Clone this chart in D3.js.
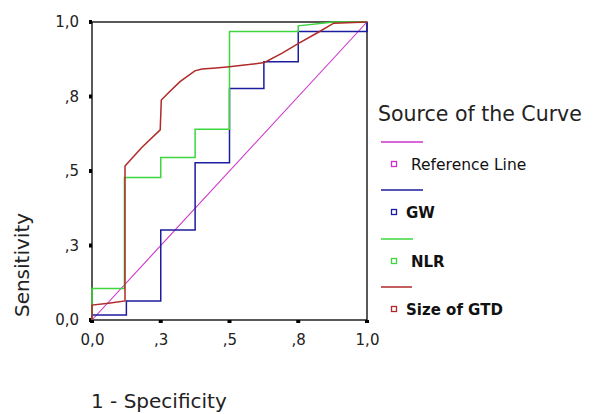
<!DOCTYPE html>
<html>
<head>
<meta charset="utf-8">
<script src="https://cdn.jsdelivr.net/npm/d3@7"></script>
<style>
  body { margin: 0; background: #fff; }
  svg { display: block; font-family: "DejaVu Sans", Verdana, sans-serif; }
</style>
</head>
<body>
<div id="chart"></div>
<script>
// ROC curve data (x = 1 - specificity, y = sensitivity)
const refX = [0, 1];
const refY = [0, 1];

const gwX = [0, 0, 0.125, 0.125, 0.25, 0.25, 0.375, 0.375, 0.5, 0.5, 0.625, 0.625, 0.75, 0.75, 1, 1];
const gwY = [0, 0.017, 0.017, 0.064, 0.064, 0.302, 0.302, 0.528, 0.528, 0.777, 0.777, 0.867, 0.867, 0.968, 0.968, 1];

const nlrX = [0, 0, 0.118, 0.118, 0.25, 0.25, 0.375, 0.375, 0.5, 0.5, 0.75, 0.75, 0.88, 1];
const nlrY = [0, 0.106, 0.106, 0.478, 0.478, 0.545, 0.545, 0.64, 0.64, 0.968, 0.968, 0.987, 1, 1];

const gtdX = [0, 0, 0.06, 0.12, 0.12, 0.18, 0.248, 0.252, 0.28, 0.32, 0.374, 0.40, 0.45, 0.5, 0.57, 0.627, 0.69, 0.751, 0.82, 0.879, 1];
const gtdY = [0, 0.05, 0.056, 0.064, 0.517, 0.578, 0.638, 0.738, 0.764, 0.80, 0.836, 0.842, 0.846, 0.85, 0.857, 0.864, 0.895, 0.928, 0.964, 0.996, 1];

const tickValues = [0, 0.25, 0.5, 0.75, 1];
const tickLabels = ["0,0", ",3", ",5", ",8", "1,0"];

const seriesNames = ["Reference Line", "GW", "NLR", "Size of GTD"];
const seriesColors = ["#cc33cc", "#1c1ca0", "#3ed63e", "#b02a2a"];

const width = 593;
const height = 414;
const plot = { left: 92, top: 22, right: 367, bottom: 320 };

const x = d3.scaleLinear().domain([0, 1]).range([plot.left, plot.right]);
const y = d3.scaleLinear().domain([0, 1]).range([plot.bottom, plot.top]);

const svg = d3.select("#chart").append("svg")
    .attr("width", width)
    .attr("height", height);

// plot frame
svg.append("rect")
    .attr("x", plot.left)
    .attr("y", plot.top)
    .attr("width", plot.right - plot.left)
    .attr("height", plot.bottom - plot.top)
    .attr("fill", "none")
    .attr("stroke", "#000")
    .attr("stroke-width", 1.3);

// axes: small square tick marks, SPSS style labels
const xAxis = d3.axisBottom(x).tickValues(tickValues)
    .tickFormat((d, i) => tickLabels[i]).tickSize(0).tickPadding(14);
const yAxis = d3.axisLeft(y).tickValues(tickValues)
    .tickFormat((d, i) => tickLabels[i]).tickSize(0).tickPadding(13);

const gx = svg.append("g").attr("transform", `translate(0,${plot.bottom})`).call(xAxis);
const gy = svg.append("g").attr("transform", `translate(${plot.left},0)`).call(yAxis);
[gx, gy].forEach(g => {
    g.select(".domain").remove();
    g.selectAll("text").attr("font-size", 15).attr("fill", "#222")
        .attr("font-family", "'DejaVu Sans', Verdana, sans-serif");
});

svg.append("g").selectAll("rect")
    .data(tickValues)
    .join("rect")
    .attr("x", d => x(d) - 2)
    .attr("y", plot.bottom)
    .attr("width", 4).attr("height", 3)
    .attr("fill", "#000");
svg.append("g").selectAll("rect")
    .data(tickValues)
    .join("rect")
    .attr("x", plot.left - 3)
    .attr("y", d => y(d) - 2)
    .attr("width", 3).attr("height", 4)
    .attr("fill", "#000");

// curves
const line = d3.line().x(d => x(d[0])).y(d => y(d[1]));
const curves = [
    d3.zip(refX, refY),
    d3.zip(gwX, gwY),
    d3.zip(nlrX, nlrY),
    d3.zip(gtdX, gtdY)
];
svg.append("g")
    .attr("fill", "none")
    .selectAll("path")
    .data(curves)
    .join("path")
    .attr("d", line)
    .attr("stroke", (d, i) => seriesColors[i])
    .attr("stroke-width", (d, i) => i === 0 ? 1.1 : 1.5);

// axis titles
svg.append("text")
    .attr("x", 91).attr("y", 408)
    .attr("font-size", 20).attr("fill", "#222")
    .text("1 - Specificity");
svg.append("text")
    .attr("transform", "translate(29,265) rotate(-90)")
    .attr("text-anchor", "middle")
    .attr("font-size", 20).attr("fill", "#222")
    .text("Sensitivity");

// legend
const legend = svg.append("g");
legend.append("text")
    .attr("x", 378).attr("y", 121)
    .attr("font-size", 20.5).attr("fill", "#222")
    .text("Source of the Curve");

const lineY = [142, 190, 239, 287];
const lineLen = [42, 42, 32, 31];
const textX = [411, 406, 411, 406];
seriesNames.forEach((name, i) => {
    const g = legend.append("g");
    g.append("line")
        .attr("x1", 381).attr("x2", 381 + lineLen[i])
        .attr("y1", lineY[i]).attr("y2", lineY[i])
        .attr("stroke", seriesColors[i]).attr("stroke-width", 1.5);
    g.append("rect")
        .attr("x", 391.5).attr("y", lineY[i] + 19.5)
        .attr("width", 5).attr("height", 5)
        .attr("fill", "none")
        .attr("stroke", seriesColors[i]).attr("stroke-width", 1.3);
    g.append("text")
        .attr("x", textX[i]).attr("y", lineY[i] + 28)
        .attr("font-size", i === 0 ? 15.5 : 15)
        .attr("font-weight", i === 0 ? "normal" : "bold")
        .attr("fill", "#111")
        .text(name);
});
</script>
</body>
</html>
